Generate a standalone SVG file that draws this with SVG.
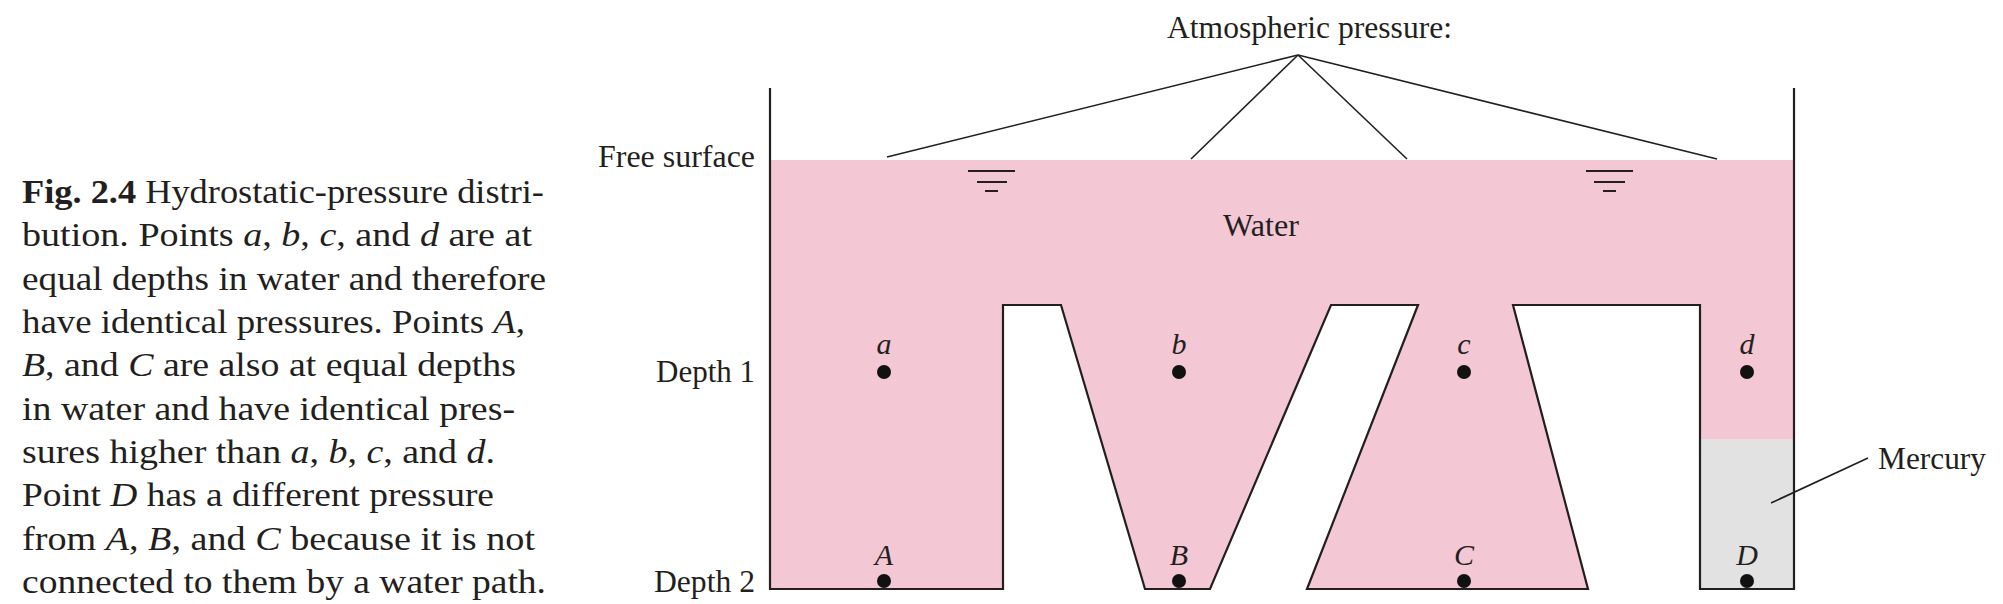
<svg xmlns="http://www.w3.org/2000/svg" width="2003" height="604" viewBox="0 0 2003 604">
<style>
text{font-family:"Liberation Serif","Times New Roman",serif;fill:#231f20}
.cap{font-size:33px}
.lbl{font-size:31px}
.pt{font-size:30px;font-style:italic;text-anchor:middle}
.it{font-style:italic}
.b{font-weight:bold}
.wall{fill:none;stroke:#231f20;stroke-width:2.2;stroke-linejoin:miter}
.lead{fill:none;stroke:#231f20;stroke-width:1.6}
.sym{stroke:#231f20;stroke-width:2}
.dot{fill:#111}
</style>
<rect width="2003" height="604" fill="#ffffff"/>
<g id="caption">
<text class="cap" x="22" y="203" textLength="522" lengthAdjust="spacingAndGlyphs"><tspan class="b">Fig. 2.4</tspan> Hydrostatic-pressure distri-</text>
<text class="cap" x="22" y="246.3" textLength="510" lengthAdjust="spacingAndGlyphs">bution. Points <tspan class="it">a</tspan>, <tspan class="it">b</tspan>, <tspan class="it">c</tspan>, and <tspan class="it">d</tspan> are at</text>
<text class="cap" x="22" y="289.7" textLength="524" lengthAdjust="spacingAndGlyphs">equal depths in water and therefore</text>
<text class="cap" x="22" y="333" textLength="503" lengthAdjust="spacingAndGlyphs">have identical pressures. Points <tspan class="it">A</tspan>,</text>
<text class="cap" x="22" y="376.3" textLength="494" lengthAdjust="spacingAndGlyphs"><tspan class="it">B</tspan>, and <tspan class="it">C</tspan> are also at equal depths</text>
<text class="cap" x="22" y="419.7" textLength="493" lengthAdjust="spacingAndGlyphs">in water and have identical pres-</text>
<text class="cap" x="22" y="463" textLength="473" lengthAdjust="spacingAndGlyphs">sures higher than <tspan class="it">a</tspan>, <tspan class="it">b</tspan>, <tspan class="it">c</tspan>, and <tspan class="it">d</tspan>.</text>
<text class="cap" x="22" y="506.3" textLength="472" lengthAdjust="spacingAndGlyphs">Point <tspan class="it">D</tspan> has a different pressure</text>
<text class="cap" x="22" y="549.7" textLength="513" lengthAdjust="spacingAndGlyphs">from <tspan class="it">A</tspan>, <tspan class="it">B</tspan>, and <tspan class="it">C</tspan> because it is not</text>
<text class="cap" x="22" y="593" textLength="524" lengthAdjust="spacingAndGlyphs">connected to them by a water path.</text>
</g>
<g id="water">
<path fill="#f4c7d4" d="M770,160 L1794,160 L1794,439 L1700,439 L1700,305 L1513,305 L1588,589 L1307,589 L1418,305 L1331,305 L1210,589 L1145,589 L1061,305 L1003,305 L1003,589 L770,589 Z"/>
</g>
<g id="mercury">
<rect x="1700" y="439" width="94" height="150" fill="#e2e2e2"/>
</g>
<g id="container">
<path class="wall" d="M770,88 L770,589 L1003,589 L1003,305 L1061,305 L1145,589 L1210,589 L1331,305 L1418,305 L1307,589 L1588,589 L1513,305 L1700,305 L1700,589 L1794,589 L1794,88"/>
</g>
<g id="surface-symbols">
<line class="sym" x1="968" y1="171" x2="1015" y2="171"/>
<line class="sym" x1="977" y1="182" x2="1007" y2="182"/>
<line class="sym" x1="985" y1="191" x2="998" y2="191"/>
<line class="sym" x1="1586" y1="171" x2="1633" y2="171"/>
<line class="sym" x1="1594" y1="182" x2="1625" y2="182"/>
<line class="sym" x1="1603" y1="191" x2="1616" y2="191"/>
</g>
<g id="connectors">
<line class="lead" x1="1298" y1="55" x2="887" y2="157"/>
<line class="lead" x1="1298" y1="55" x2="1191" y2="159"/>
<line class="lead" x1="1298" y1="55" x2="1407" y2="159"/>
<line class="lead" x1="1298" y1="55" x2="1717" y2="159"/>
<line class="lead" x1="1868" y1="458" x2="1771" y2="503"/>
</g>
<g id="labels">
<text class="lbl" x="1167" y="38" textLength="285" lengthAdjust="spacingAndGlyphs">Atmospheric pressure:</text>
<text class="lbl" x="598" y="167" textLength="157" lengthAdjust="spacingAndGlyphs">Free surface</text>
<text class="lbl" x="1223" y="236" textLength="76" lengthAdjust="spacingAndGlyphs">Water</text>
<text class="lbl" x="656" y="382" textLength="99" lengthAdjust="spacingAndGlyphs">Depth 1</text>
<text class="lbl" x="654" y="592" textLength="101" lengthAdjust="spacingAndGlyphs">Depth 2</text>
<text class="lbl" x="1878" y="469" textLength="108" lengthAdjust="spacingAndGlyphs">Mercury</text>
</g>
<g id="point-a"><text class="pt" x="884" y="354">a</text><circle class="dot" cx="884" cy="372" r="7"/></g>
<g id="point-b"><text class="pt" x="1179" y="354">b</text><circle class="dot" cx="1179" cy="372" r="7"/></g>
<g id="point-c"><text class="pt" x="1464" y="354">c</text><circle class="dot" cx="1464" cy="372" r="7"/></g>
<g id="point-d"><text class="pt" x="1747" y="354">d</text><circle class="dot" cx="1747" cy="372" r="7"/></g>
<g id="point-A"><text class="pt" x="884" y="565">A</text><circle class="dot" cx="884" cy="581" r="7"/></g>
<g id="point-B"><text class="pt" x="1179" y="565">B</text><circle class="dot" cx="1179" cy="581" r="7"/></g>
<g id="point-C"><text class="pt" x="1464" y="565">C</text><circle class="dot" cx="1464" cy="581" r="7"/></g>
<g id="point-D"><text class="pt" x="1747" y="565">D</text><circle class="dot" cx="1747" cy="581" r="7"/></g>
</svg>
